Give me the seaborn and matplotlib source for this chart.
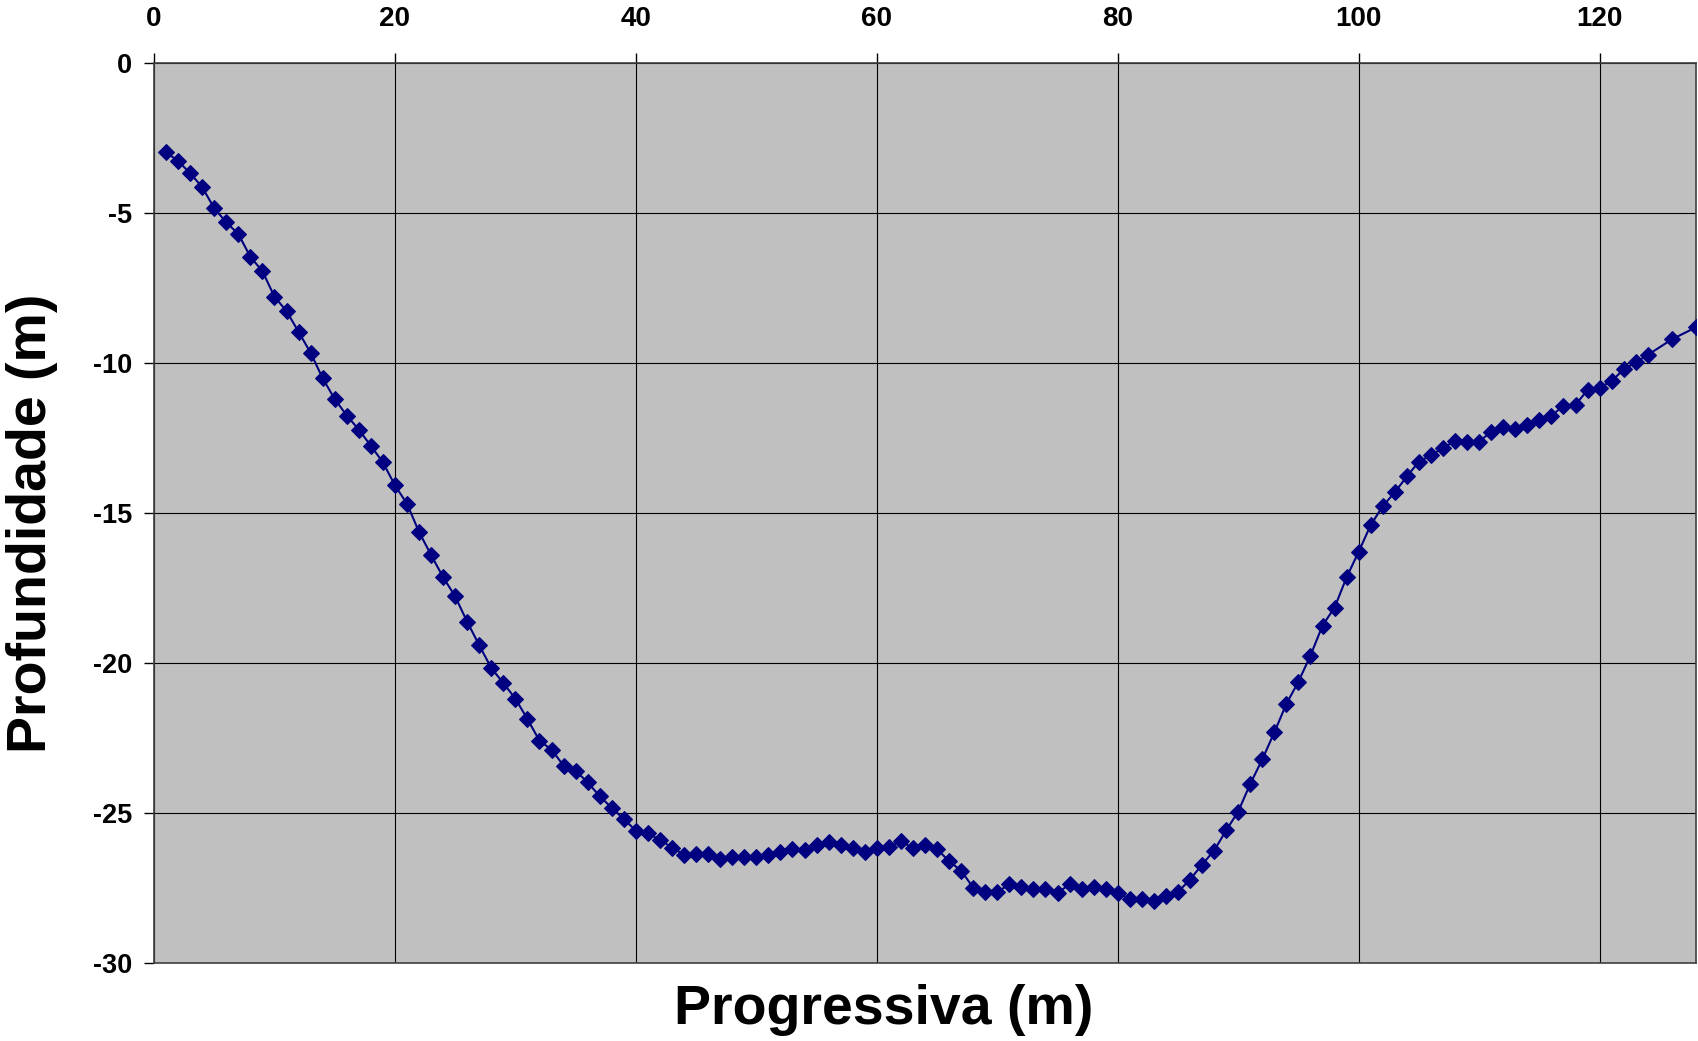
import matplotlib
matplotlib.use('Agg')
import matplotlib.pyplot as plt
import seaborn as sns

# Perfil batimétrico - progressiva (m) vs profundidade (m)
progressiva = list(range(1, 125)) + [126, 128]
profundidade = [
    -2.97, -3.27, -3.67, -4.14, -4.84, -5.31, -5.70, -6.46, -6.94, -7.79,
    -8.27, -8.96, -9.66, -10.51, -11.20, -11.75, -12.22, -12.76, -13.31, -14.08,
    -14.69, -15.63, -16.40, -17.14, -17.78, -18.63, -19.41, -20.17, -20.67, -21.19,
    -21.87, -22.59, -22.89, -23.42, -23.59, -23.98, -24.44, -24.83, -25.20, -25.59,
    -25.68, -25.90, -26.15, -26.39, -26.38, -26.38, -26.54, -26.47, -26.47, -26.47,
    -26.39, -26.30, -26.21, -26.22, -26.06, -25.97, -26.06, -26.16, -26.30, -26.16,
    -26.13, -25.94, -26.17, -26.06, -26.20, -26.61, -26.92, -27.49, -27.63, -27.63,
    -27.38, -27.47, -27.54, -27.54, -27.66, -27.38, -27.54, -27.47, -27.54, -27.66,
    -27.86, -27.86, -27.93, -27.78, -27.63, -27.22, -26.72, -26.25, -25.58, -24.95,
    -24.03, -23.21, -22.31, -21.36, -20.62, -19.75, -18.75, -18.15, -17.14, -16.29,
    -15.40, -14.77, -14.31, -13.78, -13.29, -13.07, -12.83, -12.60, -12.62, -12.62,
    -12.29, -12.14, -12.20, -12.07, -11.90, -11.76, -11.42, -11.39, -10.90, -10.82,
    -10.60, -10.21, -9.98, -9.73, -9.21, -8.81,
]
x_ticks = [0, 20, 40, 60, 80, 100, 120]
y_ticks = [0, -5, -10, -15, -20, -25, -30]

sns.set_style('white')
plt.rcParams['font.family'] = ['Liberation Sans', 'DejaVu Sans']
plt.rcParams['font.weight'] = 'bold'
plt.rcParams['axes.unicode_minus'] = False
plt.rcParams['text.color'] = 'black'

fig = plt.figure(figsize=(16.99, 10.41), dpi=100)
ax = fig.add_axes([154 / 1699, 78 / 1041, (1696 - 154) / 1699, (963 - 63) / 1041])
ax.set_facecolor('#C0C0C0')

sns.lineplot(x=progressiva, y=profundidade, ax=ax, color='#000080', lw=1.5,
             marker='D', markersize=8, markeredgecolor='#000080', zorder=3)

ax.set_xlim(0, 128)
ax.set_ylim(-30, 0)
ax.set_xticks(x_ticks)
ax.set_yticks(y_ticks)
ax.grid(True, color='black', lw=0.8)
ax.set_axisbelow(True)

ax.xaxis.tick_top()
ax.tick_params(axis='x', top=True, bottom=False, direction='out', length=7,
               width=1, pad=15, labelsize=20, colors='black')
ax.tick_params(axis='y', left=True, direction='out', length=7, width=1,
               pad=9, labelsize=19.5, colors='black')
for lbl in ax.get_xticklabels() + ax.get_yticklabels():
    lbl.set_fontweight('bold')

for s in ax.spines.values():
    s.set_color('#404040')
    s.set_linewidth(1.2)

fig.text(0.019, 0.497, 'Profundidade (m)', rotation=90, fontsize=40,
         fontweight='bold', ha='center', va='center', color='black')
fig.text(0.52, 1 - 1010 / 1041, 'Progressiva (m)', fontsize=40,
         fontweight='bold', ha='center', va='center', color='black')

fig.savefig('out.png', dpi=100)
